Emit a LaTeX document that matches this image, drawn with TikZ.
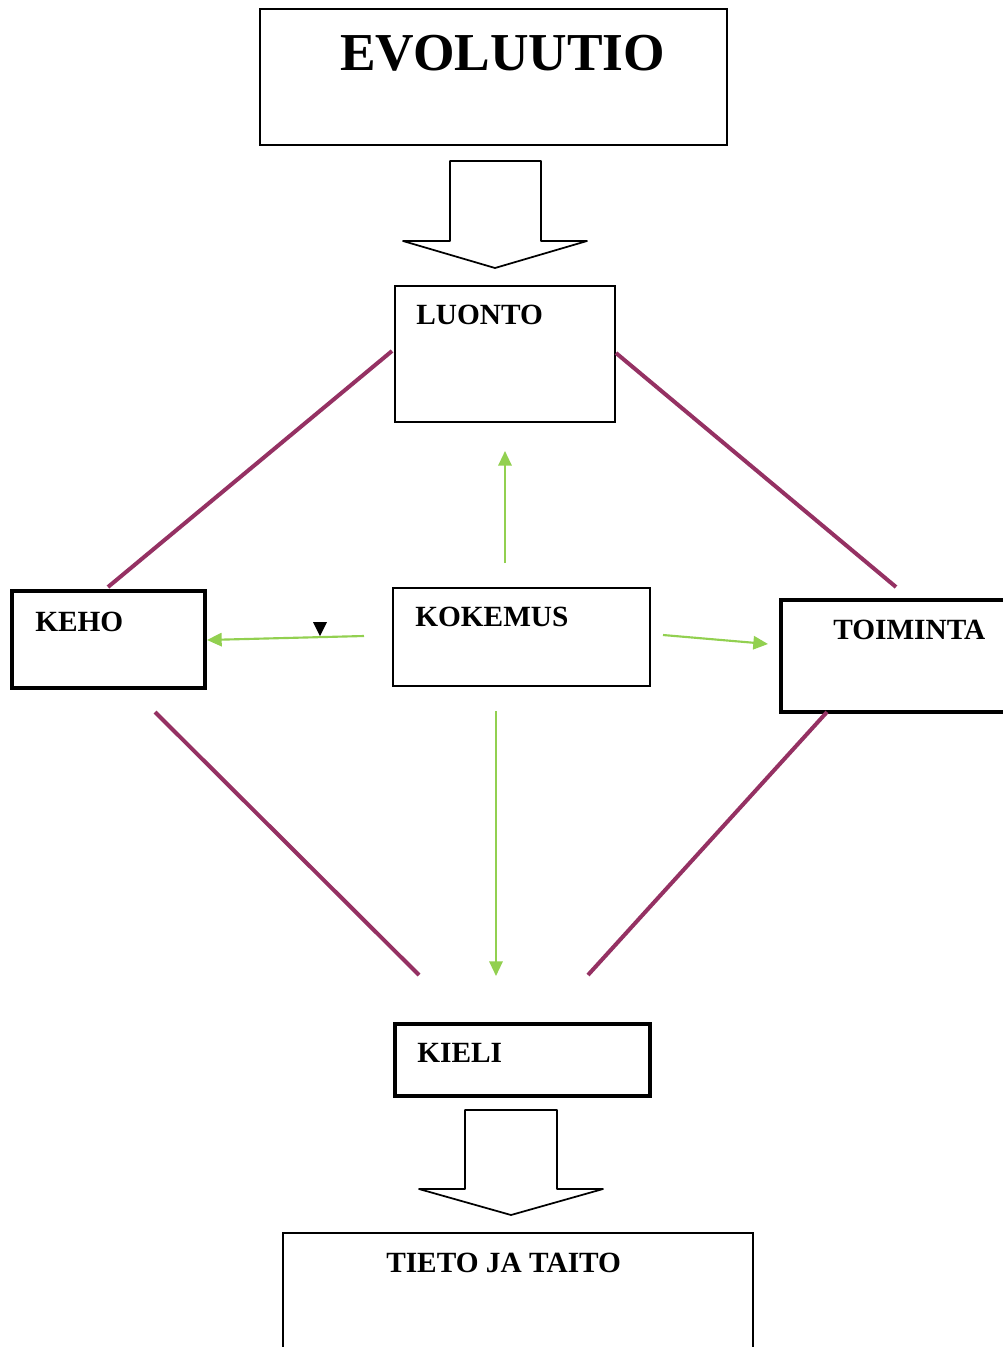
\documentclass[tikz,border=0pt]{standalone}
\usepackage{fontspec}
\setmainfont{Liberation Serif}
\usetikzlibrary{arrows.meta}
\definecolor{plum}{HTML}{953163}
\definecolor{lgreen}{HTML}{92D050}
\begin{document}
\begin{tikzpicture}[x=0.75pt,y=-0.75pt,
  boxtext/.style={anchor=west,inner sep=0pt,font=\bfseries\fontsize{22}{24}\selectfont},
  link/.style={draw=plum,line width=3pt},
  garrow/.style={draw=lgreen,line width=1.6pt,-{Triangle[length=11pt,width=10pt]}},
  bigarrow/.style={draw=black,line width=1.3pt,fill=white,line join=round}]
\useasboundingbox[fill=white] (0,0) rectangle (1003,1347);
% boxes
\draw[line width=1.1pt] (260,9) rectangle (727,145);
\node[boxtext,font=\bfseries\fontsize{40}{44}\selectfont] (evo) at (340,53) {EVOLUUTIO};

\path[bigarrow] (450,161) -- (541,161) -- (541,241) -- (587,241) -- (495,268) -- (403,241) -- (450,241) -- cycle;

\draw[line width=1.1pt] (395,286) rectangle (615,422);
\node[boxtext] (luonto) at (416,315) {LUONTO};

\draw[line width=2.6pt] (12,591) rectangle (205,688);
\node[boxtext] (keho) at (35,622) {KEHO};

\draw[line width=1.1pt] (393,588) rectangle (650,686);
\node[boxtext] (kokemus) at (415,617) {KOKEMUS};

\draw[line width=2.6pt] (781,600) rectangle (1015,712);
\node[boxtext] (toiminta) at (833,630) {TOIMINTA};

\draw[line width=2.6pt] (395,1024) rectangle (650,1096);
\node[boxtext] (kieli) at (417,1053) {KIELI};

\path[bigarrow] (465,1110) -- (557,1110) -- (557,1189) -- (603,1189) -- (511,1215) -- (419,1189) -- (465,1189) -- cycle;

\draw[line width=1.1pt] (283,1360) -- (283,1233) -- (753,1233) -- (753,1360);
\node[boxtext] (tieto) at (386,1263) {TIETO JA TAITO};

% purple links
\coordinate (l1a) at (392,351); \coordinate (l1b) at (108,587);
\coordinate (l2a) at (616,353); \coordinate (l2b) at (896,587);
\coordinate (l3a) at (155,712); \coordinate (l3b) at (419,975);
\coordinate (l4a) at (827,712); \coordinate (l4b) at (588,975);
\draw[link] (l1a) -- (l1b);
\draw[link] (l2a) -- (l2b);
\draw[link] (l3a) -- (l3b);
\draw[link] (l4a) -- (l4b);

% green arrows
\coordinate (g1a) at (505,563); \coordinate (g1b) at (505,451);
\coordinate (g2a) at (364,636); \coordinate (g2b) at (207,640);
\coordinate (g3a) at (663,635); \coordinate (g3b) at (768,644);
\coordinate (g4a) at (496,711); \coordinate (g4b) at (496,976);
\draw[garrow] (g1a) -- (g1b);
\draw[garrow] (g2a) -- (g2b);
\draw[garrow] (g3a) -- (g3b);
\draw[garrow] (g4a) -- (g4b);

% small black triangle
\fill[black] (313,622) -- (327,622) -- (320,636) -- cycle;
\end{tikzpicture}
\end{document}
